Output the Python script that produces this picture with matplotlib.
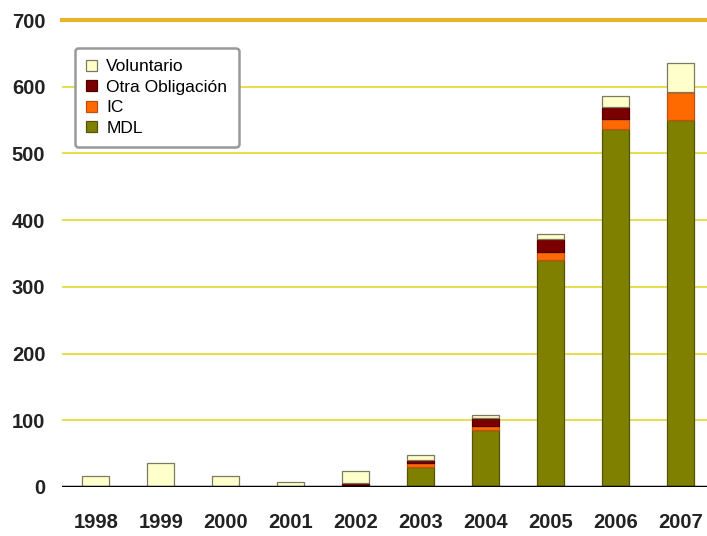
import matplotlib

matplotlib.use("Agg")
import matplotlib.pyplot as plt
import numpy as np

years = ["1998", "1999", "2000", "2001", "2002", "2003", "2004", "2005", "2006", "2007"]
mdl = [0, 0, 0, 0, 0, 30, 85, 340, 536, 550]
ic = [0, 0, 0, 0, 3, 6, 6, 12, 16, 42]
otra = [0, 0, 0, 0, 3, 4, 12, 20, 18, 0]
voluntario = [16, 36, 16, 8, 18, 8, 5, 7, 16, 43]

yticks = [0, 100, 200, 300, 400, 500, 600, 700]

plt.rcParams["font.family"] = ["Liberation Sans", "DejaVu Sans"]

fig = plt.figure(figsize=(7.07, 5.36), dpi=100)
ax = fig.add_axes([62 / 707, 49 / 536, 645 / 707, 467 / 536])

x = np.arange(len(years))
width = 0.42
bottom = np.zeros(len(years))
series = [
    ("MDL", mdl, "#7f7f00", "#55550a"),
    ("IC", ic, "#ff6a00", "#c05010"),
    ("Otra Obligación", otra, "#7a0000", "#500000"),
    ("Voluntario", voluntario, "#ffffcc", "#7a7a60"),
]
handles = {}
for name, vals, color, edge in series:
    vals = np.array(vals, dtype=float)
    bars = ax.bar(x, vals, width, bottom=bottom, color=color, edgecolor=edge,
                  linewidth=0.9, zorder=3, label=name)
    handles[name] = bars
    bottom += vals

# gridlines: yellow, top one thicker gold
for y in yticks[1:-1]:
    ax.axhline(y, color="#e6dc3c", lw=1.3, zorder=1)
ax.axhline(700, color="#e8b42c", lw=3, zorder=1, clip_on=False)
ax.axhline(0, color="black", lw=2.5, zorder=4)

ax.set_xlim(-0.52, 9.41)
ax.set_ylim(0, 700)
ax.set_xticks(x)
ax.set_xticklabels(years)
ax.set_yticks(yticks)
ax.tick_params(axis="both", length=0, labelsize=14.5, colors="#222222")
ax.tick_params(axis="x", pad=19)
ax.tick_params(axis="y", pad=12)
for lab in ax.get_xticklabels() + ax.get_yticklabels():
    lab.set_fontweight("bold")
for sp in ax.spines.values():
    sp.set_visible(False)

order = ["Voluntario", "Otra Obligación", "IC", "MDL"]
leg = ax.legend([handles[n] for n in order], order, loc="upper left",
                bbox_to_anchor=(13 / 645, 1 - 28 / 467), fontsize=12.5,
                frameon=True, fancybox=True, handlelength=0.6, handleheight=0.6,
                handletextpad=0.55, borderpad=0.65, labelspacing=0.32,
                borderaxespad=0)
leg.get_frame().set_edgecolor("#999999")
leg.get_frame().set_linewidth(1.8)
leg.get_frame().set_alpha(1)
leg.set_zorder(6)

fig.savefig("out.png", dpi=100)
